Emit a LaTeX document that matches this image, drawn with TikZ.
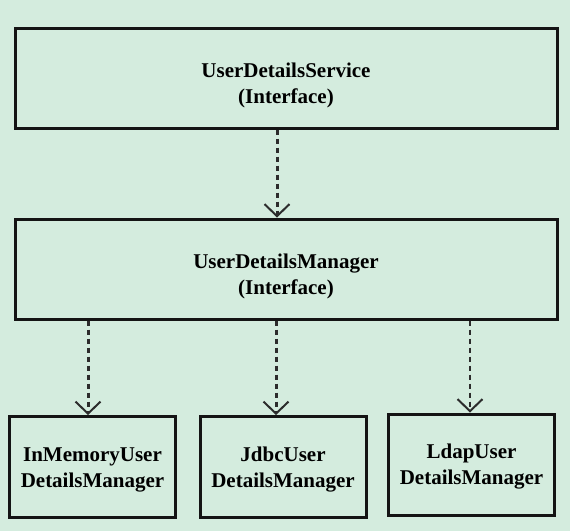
\documentclass[tikz,border=0pt]{standalone}
\usepackage{fontspec}
\setmainfont{Liberation Serif}
\usetikzlibrary{arrows.meta}
\definecolor{mint}{RGB}{212,236,222}
\definecolor{ink}{RGB}{20,20,20}
\begin{document}
\begin{tikzpicture}[x=1pt,y=-1pt,
	box/.style={draw=ink,line width=3pt,fill=mint,inner sep=0pt},
	txt/.style={align=center,inner sep=0pt,font=\bfseries\fontsize{21}{26}\selectfont},
	dep/.style={draw=ink!90,line width=3pt,dash pattern=on 5pt off 4pt,-{Straight Barb[length=12pt,width=25pt,line width=2pt]}}]
	\fill[mint] (0,0) rectangle (570,531);
	\path (286,78) node[box,minimum width=542pt,minimum height=100pt,label={[txt,yshift=-7pt]center:{UserDetailsService\\(Interface)}}](svc){};
	\path (286,269) node[box,minimum width=542pt,minimum height=100pt,label={[txt,yshift=-7pt]center:{UserDetailsManager\\(Interface)}}](mgr){};
	\foreach \x/\y/\gt[count=\i] in {92.5/467/{InMemoryUser\\DetailsManager},283/467/{JdbcUser\\DetailsManager},471.5/464.5/{LdapUser\\DetailsManager}}\path (\x,\y) node[box,minimum width=166pt,minimum height=101pt,label={[txt,yshift=-2.5pt]center:{\gt}}](b\i){};
	\draw[dep] (svc.south-|277,0)--(mgr.north-|277,0);
	\foreach \x/\i in {88/1,276/2}\draw[dep] (mgr.south-|\x,0)--(b\i.north-|\x,0);
	\draw[dep,line width=1.5pt] (mgr.south-|470,0)--(b3.north-|470,0);
\end{tikzpicture}
\end{document}
